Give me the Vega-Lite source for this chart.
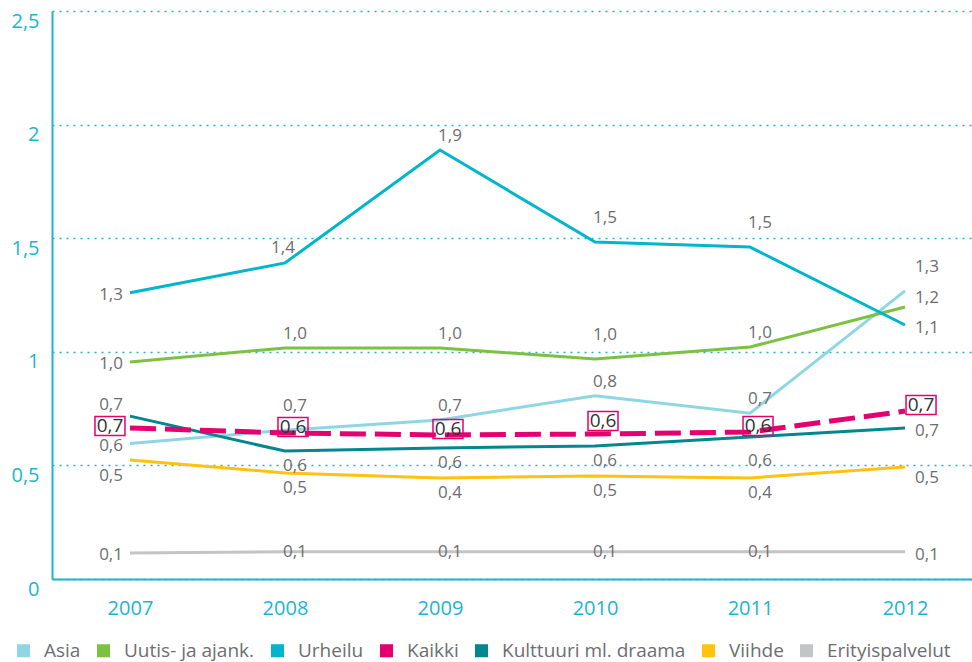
{
  "$schema": "https://vega.github.io/schema/vega-lite/v6.json",
  "width": 920,
  "height": 568,
  "autosize": {"type": "none"},
  "padding": {"left": 52, "top": 11, "right": 0, "bottom": 83},
  "background": "white",
  "config": {
    "locale": {"number": {"decimal": ",", "thousands": "\u00a0", "grouping": [3], "currency": ["", " €"]}},
    "font": "Open Sans",
    "view": {"stroke": null}
  },
  "data": {"values": [
    {"series": "Asia", "year": 2007, "v": 0.596},
    {"series": "Asia", "year": 2008, "v": 0.655},
    {"series": "Asia", "year": 2009, "v": 0.70},
    {"series": "Asia", "year": 2010, "v": 0.807},
    {"series": "Asia", "year": 2011, "v": 0.73},
    {"series": "Asia", "year": 2012, "v": 1.268},
    {"series": "Uutis- ja ajank.", "year": 2007, "v": 0.955},
    {"series": "Uutis- ja ajank.", "year": 2008, "v": 1.017},
    {"series": "Uutis- ja ajank.", "year": 2009, "v": 1.017},
    {"series": "Uutis- ja ajank.", "year": 2010, "v": 0.968},
    {"series": "Uutis- ja ajank.", "year": 2011, "v": 1.021},
    {"series": "Uutis- ja ajank.", "year": 2012, "v": 1.197},
    {"series": "Urheilu", "year": 2007, "v": 1.26},
    {"series": "Urheilu", "year": 2008, "v": 1.391},
    {"series": "Urheilu", "year": 2009, "v": 1.888},
    {"series": "Urheilu", "year": 2010, "v": 1.483},
    {"series": "Urheilu", "year": 2011, "v": 1.461},
    {"series": "Urheilu", "year": 2012, "v": 1.118},
    {"series": "Kaikki", "year": 2007, "v": 0.665},
    {"series": "Kaikki", "year": 2008, "v": 0.643},
    {"series": "Kaikki", "year": 2009, "v": 0.634},
    {"series": "Kaikki", "year": 2010, "v": 0.638},
    {"series": "Kaikki", "year": 2011, "v": 0.647},
    {"series": "Kaikki", "year": 2012, "v": 0.739},
    {"series": "Kulttuuri ml. draama", "year": 2007, "v": 0.717},
    {"series": "Kulttuuri ml. draama", "year": 2008, "v": 0.563},
    {"series": "Kulttuuri ml. draama", "year": 2009, "v": 0.577},
    {"series": "Kulttuuri ml. draama", "year": 2010, "v": 0.585},
    {"series": "Kulttuuri ml. draama", "year": 2011, "v": 0.625},
    {"series": "Kulttuuri ml. draama", "year": 2012, "v": 0.665},
    {"series": "Viihde", "year": 2007, "v": 0.524},
    {"series": "Viihde", "year": 2008, "v": 0.467},
    {"series": "Viihde", "year": 2009, "v": 0.445},
    {"series": "Viihde", "year": 2010, "v": 0.453},
    {"series": "Viihde", "year": 2011, "v": 0.445},
    {"series": "Viihde", "year": 2012, "v": 0.493},
    {"series": "Erityispalvelut", "year": 2007, "v": 0.114},
    {"series": "Erityispalvelut", "year": 2008, "v": 0.12},
    {"series": "Erityispalvelut", "year": 2009, "v": 0.12},
    {"series": "Erityispalvelut", "year": 2010, "v": 0.12},
    {"series": "Erityispalvelut", "year": 2011, "v": 0.12},
    {"series": "Erityispalvelut", "year": 2012, "v": 0.12}
  ]},
  "encoding": {
    "x": {"field": "year", "type": "quantitative",
      "scale": {"domain": [2006.497, 2012.432], "nice": false, "zero": false},
      "axis": {"values": [2007, 2008, 2009, 2010, 2011, 2012], "format": "d", "title": null, "grid": false, "ticks": false,
        "domainColor": "#1cb5cf", "domainWidth": 2, "labelColor": "#1cb5cf", "labelFontSize": 20, "labelPadding": 19, "labelFont": "Open Sans"}},
    "y": {"field": "v", "type": "quantitative",
      "scale": {"domain": [0, 2.5], "nice": false},
      "axis": {"values": [0, 0.5, 1, 1.5, 2, 2.5], "format": ".1~f", "title": null, "ticks": false, "grid": true,
        "gridColor": "#1cb5cf", "gridDash": [2, 5], "gridWidth": 1.6,
        "domainColor": "#1cb5cf", "domainWidth": 2, "labelColor": "#1cb5cf", "labelFontSize": 20, "labelPadding": 13, "labelOffset": 10, "labelFont": "Open Sans"}}
  },
  "layer": [
    {
      "transform": [{"filter": "datum.series !== 'Kaikki'"}],
      "mark": {"type": "line", "strokeWidth": 3},
      "encoding": {
        "color": {"field": "series", "type": "nominal",
          "scale": {"domain": ["Asia", "Uutis- ja ajank.", "Urheilu", "Kaikki", "Kulttuuri ml. draama", "Viihde", "Erityispalvelut"],
                    "range": ["#8fd6e3", "#7cc142", "#00b5cc", "#e5006f", "#00878f", "#ffc20e", "#c3c4c6"]},
          "legend": {"orient": "none", "legendX": -38, "legendY": 630, "direction": "horizontal", "columns": 7, "title": null,
            "symbolType": "square", "symbolSize": 170, "symbolStrokeWidth": 0, "labelFontSize": 19, "labelColor": "#6d6e71",
            "labelFont": "Open Sans", "labelLimit": 0, "columnPadding": 13, "labelOffset": 11,
            "encode": {"symbols": {"update": {"fill": {"scale": "color", "field": "value"}, "stroke": {"value": "transparent"}, "opacity": {"value": 1}}}}}}
      }
    },
    {
      "transform": [{"filter": "datum.series === 'Kaikki'"}],
      "mark": {"type": "line", "strokeWidth": 5, "strokeDash": [26, 9]},
      "encoding": {"color": {"field": "series", "type": "nominal"}}
    },
    {
      "transform": [{"filter": "indexof(['Urheilu|2009','Uutis- ja ajank.|2008','Uutis- ja ajank.|2009','Uutis- ja ajank.|2011','Asia|2009','Asia|2010','Asia|2011'], datum.series + '|' + datum.year) >= 0"}],
      "mark": {"type": "text", "align": "center", "baseline": "middle", "dx": 10, "dy": -14, "fontSize": 17, "color": "#6d6e71", "font": "Open Sans"},
      "encoding": {"text": {"field": "v", "type": "quantitative", "format": ".1f"}}
    },
    {
      "transform": [{"filter": "indexof(['Urheilu|2010','Urheilu|2011','Uutis- ja ajank.|2010','Asia|2008'], datum.series + '|' + datum.year) >= 0"}],
      "mark": {"type": "text", "align": "center", "baseline": "middle", "dx": 10, "dy": -24, "fontSize": 17, "color": "#6d6e71", "font": "Open Sans"},
      "encoding": {"text": {"field": "v", "type": "quantitative", "format": ".1f"}}
    },
    {
      "transform": [{"filter": "indexof(['Urheilu|2008'], datum.series + '|' + datum.year) >= 0"}],
      "mark": {"type": "text", "align": "center", "baseline": "middle", "dx": -2, "dy": -15, "fontSize": 17, "color": "#6d6e71", "font": "Open Sans"},
      "encoding": {"text": {"field": "v", "type": "quantitative", "format": ".1f"}}
    },
    {
      "transform": [{"filter": "indexof(['Kulttuuri ml. draama|2008','Kulttuuri ml. draama|2009','Kulttuuri ml. draama|2010','Viihde|2008','Viihde|2009','Viihde|2010','Viihde|2011'], datum.series + '|' + datum.year) >= 0"}],
      "mark": {"type": "text", "align": "center", "baseline": "middle", "dx": 10, "dy": 15, "fontSize": 17, "color": "#6d6e71", "font": "Open Sans"},
      "encoding": {"text": {"field": "v", "type": "quantitative", "format": ".1f"}}
    },
    {
      "transform": [{"filter": "indexof(['Kulttuuri ml. draama|2011'], datum.series + '|' + datum.year) >= 0"}],
      "mark": {"type": "text", "align": "center", "baseline": "middle", "dx": 10, "dy": 24, "fontSize": 17, "color": "#6d6e71", "font": "Open Sans"},
      "encoding": {"text": {"field": "v", "type": "quantitative", "format": ".1f"}}
    },
    {
      "transform": [{"filter": "datum.series === 'Erityispalvelut' && datum.year > 2007 && datum.year < 2012"}],
      "mark": {"type": "text", "align": "center", "baseline": "middle", "dx": 10, "dy": 0, "fontSize": 17, "color": "#6d6e71", "font": "Open Sans"},
      "encoding": {"text": {"field": "v", "type": "quantitative", "format": ".1f"}}
    },
    {
      "transform": [{"filter": "indexof(['Urheilu|2007','Uutis- ja ajank.|2007','Asia|2007','Erityispalvelut|2007'], datum.series + '|' + datum.year) >= 0"}],
      "mark": {"type": "text", "align": "right", "baseline": "middle", "dx": -7, "dy": 2, "fontSize": 17, "color": "#6d6e71", "font": "Open Sans"},
      "encoding": {"text": {"field": "v", "type": "quantitative", "format": ".1f"}}
    },
    {
      "transform": [{"filter": "indexof(['Kulttuuri ml. draama|2007'], datum.series + '|' + datum.year) >= 0"}],
      "mark": {"type": "text", "align": "right", "baseline": "middle", "dx": -7, "dy": -11, "fontSize": 17, "color": "#6d6e71", "font": "Open Sans"},
      "encoding": {"text": {"field": "v", "type": "quantitative", "format": ".1f"}}
    },
    {
      "transform": [{"filter": "indexof(['Viihde|2007'], datum.series + '|' + datum.year) >= 0"}],
      "mark": {"type": "text", "align": "right", "baseline": "middle", "dx": -7, "dy": 16, "fontSize": 17, "color": "#6d6e71", "font": "Open Sans"},
      "encoding": {"text": {"field": "v", "type": "quantitative", "format": ".1f"}}
    },
    {
      "transform": [{"filter": "indexof(['Urheilu|2012','Kulttuuri ml. draama|2012','Erityispalvelut|2012'], datum.series + '|' + datum.year) >= 0"}],
      "mark": {"type": "text", "align": "left", "baseline": "middle", "dx": 10, "dy": 3, "fontSize": 17, "color": "#6d6e71", "font": "Open Sans"},
      "encoding": {"text": {"field": "v", "type": "quantitative", "format": ".1f"}}
    },
    {
      "transform": [{"filter": "indexof(['Uutis- ja ajank.|2012'], datum.series + '|' + datum.year) >= 0"}],
      "mark": {"type": "text", "align": "left", "baseline": "middle", "dx": 10, "dy": -9, "fontSize": 17, "color": "#6d6e71", "font": "Open Sans"},
      "encoding": {"text": {"field": "v", "type": "quantitative", "format": ".1f"}}
    },
    {
      "transform": [{"filter": "indexof(['Asia|2012'], datum.series + '|' + datum.year) >= 0"}],
      "mark": {"type": "text", "align": "left", "baseline": "middle", "dx": 10, "dy": -24, "fontSize": 17, "color": "#6d6e71", "font": "Open Sans"},
      "encoding": {"text": {"field": "v", "type": "quantitative", "format": ".1f"}}
    },
    {
      "transform": [{"filter": "indexof(['Viihde|2012'], datum.series + '|' + datum.year) >= 0"}],
      "mark": {"type": "text", "align": "left", "baseline": "middle", "dx": 10, "dy": 11, "fontSize": 17, "color": "#6d6e71", "font": "Open Sans"},
      "encoding": {"text": {"field": "v", "type": "quantitative", "format": ".1f"}}
    },
    {
      "transform": [{"filter": "datum.series === 'Kaikki' && datum.year === 2007"}],
      "mark": {"type": "point", "shape": "M-1.5,-0.95L1.5,-0.95L1.5,0.95L-1.5,0.95Z", "size": 400, "filled": false, "stroke": "#e5006f", "strokeWidth": 1.5, "opacity": 1, "xOffset": -20, "yOffset": -2}
    },
    {
      "transform": [{"filter": "datum.series === 'Kaikki' && datum.year === 2007"}],
      "mark": {"type": "text", "align": "center", "baseline": "middle", "xOffset": -20, "yOffset": -2, "fontSize": 19, "color": "#333333", "font": "Open Sans"},
      "encoding": {"text": {"field": "v", "type": "quantitative", "format": ".1f"}}
    },
    {
      "transform": [{"filter": "datum.series === 'Kaikki' && (datum.year === 2008 || datum.year === 2009 || datum.year === 2011)"}],
      "mark": {"type": "point", "shape": "M-1.5,-0.95L1.5,-0.95L1.5,0.95L-1.5,0.95Z", "size": 400, "filled": false, "stroke": "#e5006f", "strokeWidth": 1.5, "opacity": 1, "xOffset": 8, "yOffset": -6}
    },
    {
      "transform": [{"filter": "datum.series === 'Kaikki' && (datum.year === 2008 || datum.year === 2009 || datum.year === 2011)"}],
      "mark": {"type": "text", "align": "center", "baseline": "middle", "xOffset": 8, "yOffset": -6, "fontSize": 19, "color": "#333333", "font": "Open Sans"},
      "encoding": {"text": {"field": "v", "type": "quantitative", "format": ".1f"}}
    },
    {
      "transform": [{"filter": "datum.series === 'Kaikki' && datum.year === 2010"}],
      "mark": {"type": "point", "shape": "M-1.5,-0.95L1.5,-0.95L1.5,0.95L-1.5,0.95Z", "size": 400, "filled": false, "stroke": "#e5006f", "strokeWidth": 1.5, "opacity": 1, "xOffset": 8, "yOffset": -13}
    },
    {
      "transform": [{"filter": "datum.series === 'Kaikki' && datum.year === 2010"}],
      "mark": {"type": "text", "align": "center", "baseline": "middle", "xOffset": 8, "yOffset": -13, "fontSize": 19, "color": "#333333", "font": "Open Sans"},
      "encoding": {"text": {"field": "v", "type": "quantitative", "format": ".1f"}}
    },
    {
      "transform": [{"filter": "datum.series === 'Kaikki' && datum.year === 2012"}],
      "mark": {"type": "point", "shape": "M-1.5,-0.95L1.5,-0.95L1.5,0.95L-1.5,0.95Z", "size": 400, "filled": false, "stroke": "#e5006f", "strokeWidth": 1.5, "opacity": 1, "xOffset": 16, "yOffset": -6}
    },
    {
      "transform": [{"filter": "datum.series === 'Kaikki' && datum.year === 2012"}],
      "mark": {"type": "text", "align": "center", "baseline": "middle", "xOffset": 16, "yOffset": -6, "fontSize": 19, "color": "#333333", "font": "Open Sans"},
      "encoding": {"text": {"field": "v", "type": "quantitative", "format": ".1f"}}
    }
  ]
}
